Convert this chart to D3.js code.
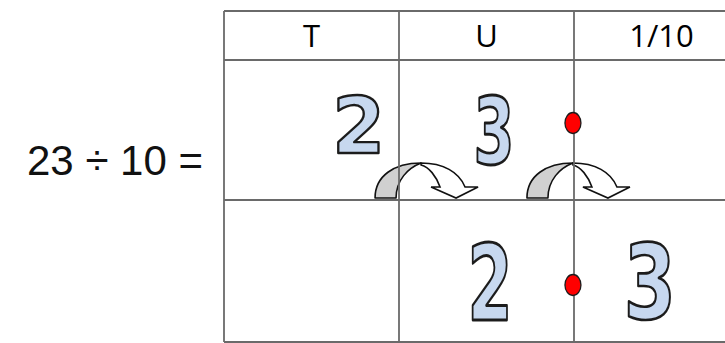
<!DOCTYPE html>
<html>
<head>
    <title>Dividing by 10 on a place value chart</title>
    <script src="https://d3js.org/d3.v7.min.js"></script>
    <style>
        body { margin: 0; background: #fff; }
        svg { display: block; }
    </style>
</head>
<body>
<svg width="725" height="343"></svg>

<script>
// the sum
const dividend = 23;
const divisor = 10;

// place value columns
const columns = ["T", "U", "1/10"];

// digits before and after dividing (col = position in column units)
const beforeDigits = [
    {digit: "2", col: 0.766},
    {digit: "3", col: 1.54}
];
const afterDigits = [
    {digit: "2", col: 1.517},
    {digit: "3", col: 2.43}
];

// decimal point sits on the U | 1/10 line
const pointCol = 1.994;

// the jumps one column to the right
const jumps = [1.126, 1.994];

const svg = d3.select("svg");

const x = d3.scaleLinear().domain([0, 3]).range([224, 749]);
const rows = {head: [11, 60], before: [60, 200], after: [200, 342]};

// digit boxes: top and height inside each row
const digitBox = {
    before: [{top: 95, h: 58, w: 41}, {top: 95, h: 70, w: 33}],
    after:  [{top: 242, h: 78, w: 35}, {top: 242, h: 78, w: 42}]
};

const lineColor = "#6a6a6a";

// equation on the left
svg.append("text")
    .attr("x", 27)
    .attr("y", 175)
    .attr("font-family", "'Liberation Sans', Arial, sans-serif")
    .attr("font-size", 42)
    .attr("fill", "#111")
    .text(dividend + " \u00f7 " + divisor + " =");

// curved arrows (drawn under the grid lines)
const arrowG = svg.append("g");
jumps.forEach(c => {
    const g = arrowG.append("g")
        .attr("transform", "translate(" + x(c) + ",164)");
    g.append("path")
        .attr("d", "M-46,34 C-46,12 -27,-1 0,-1 C-13,4 -25,16 -25,34 Z")
        .attr("fill", "#d0d0d0")
        .attr("stroke", "#111")
        .attr("stroke-width", 1.6)
        .attr("stroke-linejoin", "round");
    g.append("path")
        .attr("d", "M0,-1 C22,-1 38,8 44,23 L57,23 L35,34 L10,23 L19,23 C15,12 8,3 0,1 Z")
        .attr("fill", "#fff")
        .attr("stroke", "#111")
        .attr("stroke-width", 1.6)
        .attr("stroke-linejoin", "miter");
});

// grid
const grid = svg.append("g")
    .attr("stroke", lineColor)
    .attr("stroke-width", 1.8);

[rows.head[0], rows.head[1], rows.before[1], rows.after[1]].forEach(yy => {
    grid.append("line")
        .attr("x1", x(0)).attr("x2", x(3))
        .attr("y1", yy).attr("y2", yy);
});
d3.range(0, 4).forEach(i => {
    grid.append("line")
        .attr("x1", x(i)).attr("x2", x(i))
        .attr("y1", rows.head[0]).attr("y2", rows.after[1]);
});

// column headings
svg.append("g").selectAll("text")
    .data(columns)
    .join("text")
    .attr("x", (d, i) => x(i + 0.5))
    .attr("y", 47)
    .attr("text-anchor", "middle")
    .attr("font-family", "'Open Sans', sans-serif")
    .attr("font-size", 31)
    .attr("fill", "#000")
    .text(d => d);

// measure a digit glyph so it can be fitted into its box
const canvas = document.createElement("canvas");
const ctx = canvas.getContext("2d");
ctx.font = "bold 100px 'DejaVu Sans'";

function drawDigit(d, box) {
    const m = ctx.measureText(d.digit);
    const gl = -m.actualBoundingBoxLeft,
          gr = m.actualBoundingBoxRight,
          gt = -m.actualBoundingBoxAscent,
          gb = m.actualBoundingBoxDescent;
    const sx = box.w / (gr - gl),
          sy = box.h / (gb - gt);
    const x0 = x(d.col) - box.w / 2;
    svg.append("text")
        .attr("transform", "translate(" + (x0 - gl * sx) + "," + (box.top - gt * sy) + ") scale(" + sx + "," + sy + ")")
        .attr("font-family", "'DejaVu Sans', sans-serif")
        .attr("font-weight", "bold")
        .attr("font-size", 100)
        .attr("fill", "#c7d8ef")
        .attr("stroke", "#1c1c1c")
        .attr("stroke-width", 2.4)
        .attr("vector-effect", "non-scaling-stroke")
        .attr("stroke-linejoin", "round")
        .text(d.digit);
}

beforeDigits.forEach((d, i) => drawDigit(d, digitBox.before[i]));
afterDigits.forEach((d, i) => drawDigit(d, digitBox.after[i]));

// decimal points
svg.append("g").selectAll("ellipse")
    .data([123, 285])
    .join("ellipse")
    .attr("cx", x(pointCol))
    .attr("cy", d => d)
    .attr("rx", 8)
    .attr("ry", 10.5)
    .attr("fill", "#ff0000")
    .attr("stroke", "#1c1c1c")
    .attr("stroke-width", 1.3);
</script>
</body>
</html>
